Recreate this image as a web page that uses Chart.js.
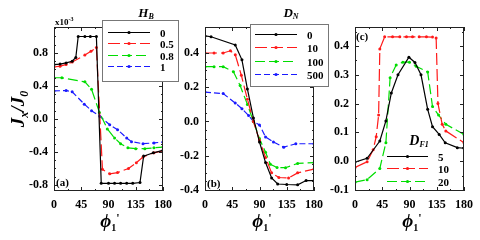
<!DOCTYPE html>
<html>
<head>
<meta charset="utf-8">
<script src="https://cdn.jsdelivr.net/npm/chart.js@4.4.0/dist/chart.umd.min.js"></script>
<style>
html, body { margin: 0; padding: 0; background: #fff; }
#wrap { position: relative; width: 480px; height: 240px; }
#wrap canvas { position: absolute; left: 0; top: 0; }
</style>
</head>
<body>
<div id="wrap">
<canvas id="chartA" width="480" height="240"></canvas>
<canvas id="chartB" width="480" height="240"></canvas>
<canvas id="chartC" width="480" height="240"></canvas>
</div>
<script>
// shared x axis ticks (phi1' in degrees)
const phiTicks = [0, 45, 90, 135, 180];

// panel (a): J_x/J_0 (x10^-3), one series per H_B
const aLabels = ['0', '0.5', '0.8', '1'];
const aTicks = [-0.8, -0.4, 0.0, 0.4, 0.8];
const aPhi0 = [0, 10, 20, 30, 36, 40, 51, 60, 70, 78, 90, 100, 110, 120, 130, 142, 148, 164, 180];
const aJ0 = [0.66, 0.665, 0.68, 0.70, 0.745, 1.0, 1.0, 1.0, 1.0, -0.78, -0.78, -0.78, -0.78, -0.78, -0.78, -0.77, -0.45, -0.41, -0.38];
const aPhi1 = [0, 10, 20, 30, 51, 61, 70, 80, 92, 105, 123, 136, 147, 165, 180];
const aJ1 = [0.63, 0.64, 0.66, 0.69, 0.775, 0.82, 0.865, -0.61, -0.665, -0.65, -0.60, -0.53, -0.46, -0.41, -0.385];
const aPhi2 = [0, 13, 51, 62, 75, 88, 100, 110, 122, 135, 150, 165, 180];
const aJ2 = [0.50, 0.50, 0.45, 0.36, 0.08, -0.12, -0.23, -0.30, -0.35, -0.36, -0.36, -0.35, -0.34];
const aPhi3 = [0, 20, 30, 50, 62, 76, 92, 105, 120, 128, 147, 165, 180];
const aJ3 = [0.34, 0.345, 0.33, 0.18, 0.10, 0.03, -0.07, -0.13, -0.23, -0.275, -0.30, -0.29, -0.28];

// panel (b): one series per D_N
const bLabels = ['0', '10', '100', '500'];
const bTicks = [-0.4, -0.2, 0.0, 0.2, 0.4];
const bPhi0 = [0, 10, 50, 61, 70, 80, 90, 100, 110, 120, 135, 153, 167, 180];
const bJ0 = [0.50, 0.495, 0.447, 0.36, 0.19, 0.02, -0.12, -0.24, -0.33, -0.365, -0.368, -0.37, -0.345, -0.345];
const bPhi1 = [0, 15, 30, 42, 50, 60, 70, 80, 90, 100, 110, 122, 138, 153, 180];
const bJ1 = [0.40, 0.40, 0.40, 0.413, 0.39, 0.27, 0.13, 0.0, -0.11, -0.21, -0.30, -0.327, -0.33, -0.30, -0.278];
const bPhi2 = [0, 15, 30, 47, 58, 70, 80, 90, 100, 108, 119, 133, 153, 180];
const bJ2 = [0.32, 0.32, 0.32, 0.29, 0.21, 0.10, 0.0, -0.10, -0.18, -0.25, -0.269, -0.27, -0.245, -0.24];
const bPhi3 = [0, 30, 50, 61, 72, 80, 90, 100, 113, 130, 150, 180];
const bJ3 = [0.172, 0.163, 0.108, 0.075, 0.035, 0.0, -0.02, -0.09, -0.12, -0.15, -0.13, -0.13];

// panel (c): one series per D_F1
const cLabels = ['5', '10', '20'];
const cTicks = [-0.1, 0.0, 0.1, 0.2, 0.3, 0.4];
const cPhi0 = [0, 20, 41, 51, 60, 71, 89, 99, 109, 120, 128, 139, 149, 169, 180];
const cJ0 = [-0.003, 0.01, 0.07, 0.14, 0.237, 0.30, 0.361, 0.343, 0.30, 0.18, 0.12, 0.093, 0.064, 0.047, 0.045];
const cPhi1 = [0, 20, 30, 35, 39, 41, 49, 62, 74, 85, 95, 106, 118, 128, 134, 137, 144, 150, 180];
const cJ1 = [-0.022, -0.002, 0.04, 0.085, 0.16, 0.39, 0.432, 0.432, 0.432, 0.432, 0.432, 0.432, 0.432, 0.431, 0.428, 0.20, 0.128, 0.105, 0.064];
const cPhi2 = [0, 20, 41, 51, 58, 68, 79, 90, 101, 120, 128, 138, 150, 180];
const cJ2 = [-0.073, -0.064, -0.025, 0.064, 0.29, 0.334, 0.344, 0.344, 0.33, 0.31, 0.19, 0.16, 0.128, 0.093];

const SERIF = "'Liberation Serif', 'DejaVu Serif', serif";
const lineColors = ['#000000', '#ff1a1a', '#00dd00', '#1a1aff'];
const lineDashes = [[], [12, 4], [10, 4], [6, 3]];

function pairs(xs, ys) {
    return xs.map((x, i) => ({ x: x, y: ys[i] }));
}

function makeDatasets(labels, phis, values) {
    return labels.map((label, i) => ({
        label: label,
        data: pairs(phis[i], values[i]),
        borderColor: lineColors[i],
        backgroundColor: lineColors[i],
        borderWidth: 1.2,
        borderDash: lineDashes[i],
        pointRadius: 1.5,
        pointBorderWidth: 0,
        tension: 0
    }));
}

function richWidth(ctx, parts) {
    let w = 0;
    parts.forEach(p => { ctx.font = p.font; w += ctx.measureText(p.text).width; });
    return w;
}

function drawRich(ctx, parts, x, y, align) {
    let cx = align === 'center' ? x - richWidth(ctx, parts) / 2 : x;
    ctx.textAlign = 'left';
    ctx.textBaseline = 'alphabetic';
    parts.forEach(p => {
        ctx.font = p.font;
        ctx.fillText(p.text, cx, y + (p.dy || 0));
        cx += ctx.measureText(p.text).width;
    });
}

// frame with inward ticks, legend and text notes
const decorPlugin = {
    id: 'decor',
    afterDraw(chart, args, opts) {
        const ctx = chart.ctx;
        const a = chart.chartArea;
        const xs = chart.scales.x, ys = chart.scales.y;
        ctx.save();
        ctx.strokeStyle = '#222';
        ctx.lineWidth = 1;
        ctx.setLineDash([]);
        ctx.strokeRect(a.left + 0.5, a.top + 0.5, a.right - a.left - 1, a.bottom - a.top - 1);
        ctx.beginPath();
        for (let k = 0; k <= 8; k++) {
            const v = k * 22.5;
            const px = Math.round(xs.getPixelForValue(v)) + 0.5;
            const len = k % 2 === 0 ? 4 : 2;
            ctx.moveTo(px, a.bottom); ctx.lineTo(px, a.bottom - len);
            ctx.moveTo(px, a.top); ctx.lineTo(px, a.top + len);
        }
        const k0 = Math.ceil(ys.min / opts.yMinor - 1e-6), k1 = Math.floor(ys.max / opts.yMinor + 1e-6);
        for (let k = k0; k <= k1; k++) {
            const v = k * opts.yMinor;
            const r = v / opts.yMajor;
            const len = Math.abs(r - Math.round(r)) < 1e-6 ? 4 : 2;
            const py = Math.round(ys.getPixelForValue(v)) + 0.5;
            ctx.moveTo(a.left, py); ctx.lineTo(a.left + len, py);
            ctx.moveTo(a.right, py); ctx.lineTo(a.right - len, py);
        }
        ctx.stroke();

        const lg = opts.legend;
        if (lg.box) {
            ctx.fillStyle = '#fff';
            ctx.fillRect(lg.box[0], lg.box[1], lg.box[2], lg.box[3]);
            ctx.strokeStyle = '#777';
            ctx.strokeRect(lg.box[0] + 0.5, lg.box[1] + 0.5, lg.box[2], lg.box[3]);
        }
        chart.data.datasets.forEach((ds, i) => {
            const yy = lg.rows[i] + 0.5;
            ctx.strokeStyle = ds.borderColor;
            ctx.lineWidth = ds.borderWidth;
            ctx.setLineDash(ds.borderDash);
            ctx.beginPath();
            ctx.moveTo(lg.x0, yy); ctx.lineTo(lg.x1, yy);
            ctx.stroke();
            ctx.setLineDash([]);
            ctx.fillStyle = ds.borderColor;
            ctx.beginPath();
            ctx.arc((lg.x0 + lg.x1) / 2, yy, 1.6, 0, Math.PI * 2);
            ctx.fill();
            ctx.fillStyle = '#000';
            drawRich(ctx, [{ text: ds.label, font: 'bold 11px ' + SERIF }], lg.tx, yy + 4, 'left');
        });
        ctx.fillStyle = '#000';
        drawRich(ctx, lg.title, lg.titleX, lg.titleY, 'center');

        opts.notes.forEach(n => {
            ctx.save();
            ctx.fillStyle = '#000';
            ctx.translate(n.x, n.y);
            if (n.rotate) ctx.rotate(n.rotate);
            drawRich(ctx, n.parts, 0, 0, n.align);
            ctx.restore();
        });
        ctx.restore();
    }
};

function phiTitle(cx) {
    return {
        x: cx, y: 227, align: 'center',
        parts: [
            { text: 'ϕ', font: 'italic bold 19px ' + SERIF },
            { text: '1', font: 'bold 10px ' + SERIF, dy: 4 },
            { text: "'", font: 'bold 12px ' + SERIF, dy: -5 }
        ]
    };
}

function tagNote(text, x, y) {
    return { x: x, y: y, align: 'left', parts: [{ text: text, font: 'bold 11px ' + SERIF }] };
}

function createPanel(canvasId, p) {
    const yW = 40, xH = 30;
    return new Chart(document.getElementById(canvasId).getContext('2d'), {
        type: 'line',
        data: { datasets: makeDatasets(p.labels, p.phis, p.values) },
        options: {
            responsive: false,
            animation: false,
            events: [],
            layout: {
                padding: {
                    left: p.plot.left - yW,
                    right: 480 - p.plot.right,
                    top: p.plot.top,
                    bottom: 240 - p.plot.bottom - xH
                }
            },
            plugins: {
                legend: { display: false },
                tooltip: { enabled: false },
                decor: { yMajor: p.yMajor, yMinor: p.yMinor, legend: p.legend, notes: p.notes }
            },
            scales: {
                x: {
                    type: 'linear',
                    min: 0,
                    max: 180,
                    afterBuildTicks: s => { s.ticks = phiTicks.map(v => ({ value: v })); },
                    afterFit: s => { s.height = xH; },
                    grid: { display: false, drawTicks: false },
                    border: { display: false },
                    ticks: { color: '#000', padding: 7, maxRotation: 0, autoSkip: false,
                        font: { family: SERIF, size: 12, weight: 'bold' }, callback: v => v }
                },
                y: {
                    type: 'linear',
                    min: p.yMin,
                    max: p.yMax,
                    afterBuildTicks: s => { s.ticks = p.yTicks.map(v => ({ value: v })); },
                    afterFit: s => { s.width = yW; },
                    grid: { display: false, drawTicks: false },
                    border: { display: false },
                    ticks: { color: '#000', padding: 6, autoSkip: false,
                        font: { family: SERIF, size: 12, weight: 'bold' }, callback: v => v.toFixed(1) }
                }
            }
        },
        plugins: [decorPlugin]
    });
}

createPanel('chartA', {
    labels: aLabels,
    phis: [aPhi0, aPhi1, aPhi2, aPhi3],
    values: [aJ0, aJ1, aJ2, aJ3],
    yMin: -0.873, yMax: 1.115, yTicks: aTicks, yMajor: 0.4, yMinor: 0.1,
    plot: { left: 54, right: 163, top: 27, bottom: 191 },
    legend: {
        box: [102, 20, 76, 61], x0: 108, x1: 150, tx: 160, rows: [32, 43, 55, 66],
        titleX: 146, titleY: 17,
        title: [{ text: 'H', font: 'italic bold 13px ' + SERIF }, { text: 'B', font: 'italic bold 8px ' + SERIF, dy: 2 }]
    },
    notes: [
        phiTitle(110),
        tagNote('(a)', 56, 186),
        { x: 55, y: 25, align: 'left', parts: [
            { text: 'x10', font: 'bold 9px ' + SERIF },
            { text: '-3', font: 'bold 6px ' + SERIF, dy: -4 }] },
        { x: 24, y: 109, align: 'center', rotate: -Math.PI / 2, parts: [
            { text: 'J', font: 'italic bold 19px ' + SERIF },
            { text: 'x', font: 'italic bold 12px ' + SERIF, dy: 4 },
            { text: '/', font: 'italic bold 19px ' + SERIF },
            { text: 'J', font: 'italic bold 19px ' + SERIF },
            { text: '0', font: 'italic bold 12px ' + SERIF, dy: 4 }] }
    ]
});

createPanel('chartB', {
    labels: bLabels,
    phis: [bPhi0, bPhi1, bPhi2, bPhi3],
    values: [bJ0, bJ1, bJ2, bJ3],
    yMin: -0.406, yMax: 0.552, yTicks: bTicks, yMajor: 0.2, yMinor: 0.05,
    plot: { left: 205, right: 314, top: 27, bottom: 191 },
    legend: {
        box: [250, 24, 78, 62], x0: 255, x1: 297, tx: 307, rows: [34, 47, 61, 74],
        titleX: 291, titleY: 17,
        title: [{ text: 'D', font: 'italic bold 13px ' + SERIF }, { text: 'N', font: 'italic bold 8px ' + SERIF, dy: 2 }]
    },
    notes: [phiTitle(262), tagNote('(b)', 207, 187)]
});

createPanel('chartC', {
    labels: cLabels,
    phis: [cPhi0, cPhi1, cPhi2],
    values: [cJ0, cJ1, cJ2],
    yMin: -0.1035, yMax: 0.466, yTicks: cTicks, yMajor: 0.1, yMinor: 0.05,
    plot: { left: 355, right: 465, top: 27, bottom: 191 },
    legend: {
        box: null, x0: 387, x1: 428, tx: 438, rows: [156, 168, 181],
        titleX: 419, titleY: 145,
        title: [{ text: 'D', font: 'italic bold 14px ' + SERIF }, { text: 'F1', font: 'italic bold 8px ' + SERIF, dy: 2 }]
    },
    notes: [phiTitle(412), tagNote('(c)', 356, 40)]
});
</script>
</body>
</html>
